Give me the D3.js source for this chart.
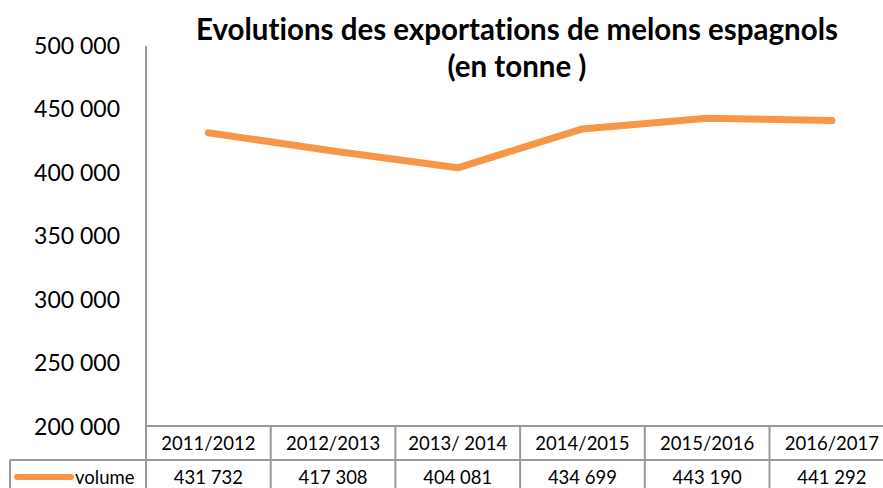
<!DOCTYPE html>
<html>
<head>
<meta charset="utf-8">
<script src="https://cdn.jsdelivr.net/npm/d3@7"></script>
<style>
  body { margin: 0; background: #fff; }
  svg text { font-family: Lato, "Open Sans", sans-serif; fill: #000; font-variant-ligatures: none; }
</style>
</head>
<body>
<svg id="chart" width="883" height="488"></svg>
<script>
// chart data
const seasons = ['2011/2012', '2012/2013', '2013/ 2014', '2014/2015', '2015/2016', '2016/2017'];
const volume  = [431732, 417308, 404081, 434699, 443190, 441292];
const yTicks  = [200000, 250000, 300000, 350000, 400000, 450000, 500000];
const seriesName = 'volume';
const titleLines = ['Evolutions des exportations de melons espagnols', '(en tonne )'];

const ORANGE = '#f79646', GRID = '#999999';
const fr = d3.formatLocale({ decimal: ',', thousands: ' ', grouping: [3] });
const fmt = fr.format(',d');

const svg = d3.select('#chart');
const plotLeft = 146, colW = 124.7, plotTop = 46, axisBottom = 427;
const row1 = 426, row2 = 460, row3 = 488;

const x = d3.scaleBand().domain(seasons).range([plotLeft, plotLeft + colW * seasons.length]);
const y = d3.scaleLinear().domain([200000, 500000]).range([axisBottom, plotTop]);

// title
svg.append('g').selectAll('text')
    .data(titleLines)
    .join('text')
    .attr('x', 517)
    .attr('y', (d, i) => 40 + i * 37)
    .attr('text-anchor', 'middle')
    .style('font-weight', 'bold')
    .style('font-size', '29.5px')
    .text(d => d);

// y axis labels (no ticks)
const yAxis = svg.append('g')
    .attr('transform', `translate(${plotLeft},0)`)
    .call(d3.axisLeft(y).tickValues(yTicks).tickFormat(fmt).tickSize(0).tickPadding(26));
yAxis.select('.domain').remove();
yAxis.selectAll('text').style('font-size', '23px').attr('font-family', null).attr('fill', '#000');

// data table grid
const grid = svg.append('g').attr('stroke', GRID).attr('stroke-width', 2).attr('fill', 'none');
grid.append('line').attr('x1', plotLeft).attr('x2', plotLeft).attr('y1', plotTop).attr('y2', row3);
grid.append('line').attr('x1', plotLeft).attr('x2', 883).attr('y1', row1).attr('y2', row1);
grid.append('line').attr('x1', 10).attr('x2', 883).attr('y1', row2).attr('y2', row2);
grid.append('line').attr('x1', 10).attr('x2', 10).attr('y1', row2).attr('y2', row3);
grid.selectAll('.div')
    .data(seasons.slice(1))
    .join('line')
    .attr('x1', d => x(d)).attr('x2', d => x(d))
    .attr('y1', row1).attr('y2', row3);

// category row
svg.append('g').selectAll('text')
    .data(seasons)
    .join('text')
    .attr('x', d => x(d) + x.bandwidth() / 2)
    .attr('y', 450)
    .attr('text-anchor', 'middle')
    .style('font-size', '18.5px')
    .text(d => d);

// value row
svg.append('g').selectAll('text')
    .data(volume)
    .join('text')
    .attr('x', (d, i) => x(seasons[i]) + x.bandwidth() / 2)
    .attr('y', 484)
    .attr('text-anchor', 'middle')
    .style('font-size', '18.5px')
    .text(d => fmt(d));

// legend key in the table
svg.append('line')
    .attr('x1', 17).attr('x2', 71).attr('y1', 477).attr('y2', 477)
    .attr('stroke', ORANGE).attr('stroke-width', 6).attr('stroke-linecap', 'round');
svg.append('text')
    .attr('x', 75).attr('y', 484)
    .style('font-size', '18.5px')
    .text(seriesName);

// line
const line = d3.line()
    .x((d, i) => x(seasons[i]) + x.bandwidth() / 2)
    .y(d => y(d));

svg.append('path')
    .datum(volume)
    .attr('fill', 'none')
    .attr('stroke', ORANGE)
    .attr('stroke-width', 7)
    .attr('stroke-linecap', 'round')
    .attr('stroke-linejoin', 'round')
    .attr('d', line);
</script>
</body>
</html>
